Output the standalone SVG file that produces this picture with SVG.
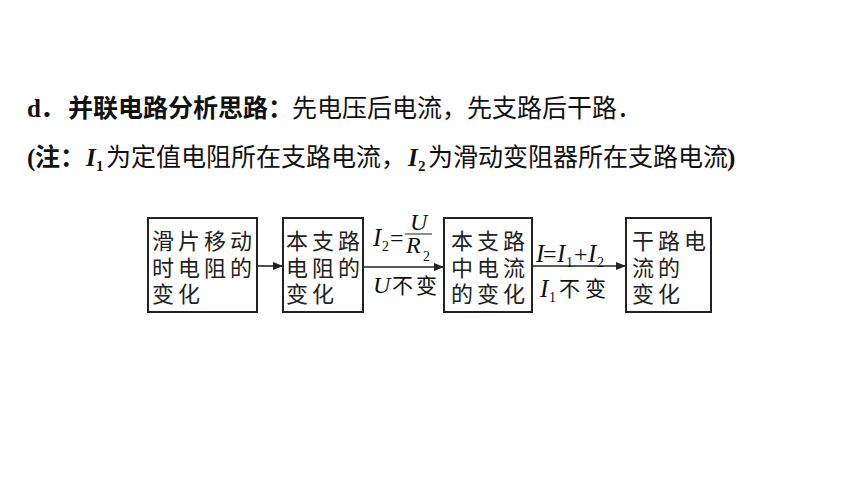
<svg xmlns="http://www.w3.org/2000/svg" width="860" height="484" viewBox="0 0 860 484">
<defs>
<style>
.cjk{font-family:"Noto Sans CJK SC","Noto Sans CJK JP",sans-serif;fill:#111}
.b{font-weight:bold}
.ser{font-family:"Liberation Serif","Times New Roman",serif;fill:#111}
.it{font-style:italic}
.box{fill:#fff;stroke:#222;stroke-width:2}
.bt{font-family:"Noto Sans CJK SC","Noto Sans CJK JP",sans-serif;font-size:22px;letter-spacing:4px;fill:#222}
.conn{stroke:#222;stroke-width:1.6;fill:none}
</style>
<marker id="ah" markerUnits="userSpaceOnUse" markerWidth="11" markerHeight="9" refX="10" refY="4" orient="auto">
<path d="M0,0 L10,4 L0,8 z" fill="#222"/>
</marker>
</defs>
<rect width="860" height="484" fill="#fff"/>
<g id="title">
<text x="27" y="117" class="ser b" font-size="25">d</text>
<text x="40" y="117" class="cjk b" font-size="25">．</text>
<text x="68" y="117" class="cjk b" font-size="25">并联电路分析思路：</text>
<text x="292" y="117" class="cjk" font-size="25">先电压后电流，先支路后干路．</text>
</g>
<g id="note">
<text x="27" y="166" class="ser b" font-size="25">(</text>
<text x="35" y="166" class="cjk b" font-size="25">注：</text>
<text x="86" y="166" class="ser b it" font-size="25">I</text>
<text x="96" y="171" class="ser b" font-size="15">1</text>
<text x="106" y="166" class="cjk" font-size="25">为定值电阻所在支路电流，</text>
<text x="408" y="166" class="ser b it" font-size="25">I</text>
<text x="418" y="171" class="ser b" font-size="15">2</text>
<text x="428" y="166" class="cjk" font-size="25">为滑动变阻器所在支路电流</text>
<text x="727" y="166" class="ser b" font-size="25">)</text>
</g>
<g id="connectors">
<line class="conn" x1="257" y1="266" x2="283" y2="266" marker-end="url(#ah)"/>
<line class="conn" x1="363" y1="267" x2="444" y2="267" marker-end="url(#ah)"/>
<line class="conn" x1="532" y1="266" x2="626" y2="266" marker-end="url(#ah)"/>
<g id="label-2">
<text x="373" y="246" class="ser it" font-size="25">I</text>
<text x="382" y="251" class="ser" font-size="14">2</text>
<text x="390" y="246" class="ser" font-size="24">=</text>
<text x="410" y="230" class="ser it" font-size="24">U</text>
<line x1="405" y1="234" x2="432" y2="234" stroke="#222" stroke-width="1"/>
<text x="406" y="253" class="ser it" font-size="24">R</text>
<text x="423" y="261" class="ser" font-size="14">2</text>
<text x="373" y="293" class="ser it" font-size="24">U</text>
<text x="392" y="293" class="cjk" font-size="21" letter-spacing="3">不变</text>
</g>
<g id="label-3">
<text x="536" y="262" class="ser it" font-size="25">I</text>
<text x="543" y="262" class="ser" font-size="24">=</text>
<text x="557" y="262" class="ser it" font-size="25">I</text>
<text x="566" y="267" class="ser" font-size="14">1</text>
<text x="574" y="262" class="ser" font-size="24">+</text>
<text x="588" y="262" class="ser it" font-size="25">I</text>
<text x="597" y="267" class="ser" font-size="14">2</text>
<text x="540" y="297" class="ser it" font-size="25">I</text>
<text x="549" y="302" class="ser" font-size="14">1</text>
<text x="559" y="296" class="cjk" font-size="21" letter-spacing="5">不变</text>
</g>
</g>
<g id="node-1">
<rect class="box" x="148" y="218" width="109" height="94"/>
<text class="bt"><tspan x="152" y="249">滑片移动</tspan><tspan x="152" y="276">时电阻的</tspan><tspan x="152" y="302">变化</tspan></text>
</g>
<g id="node-2">
<rect class="box" x="283" y="218" width="80" height="94"/>
<text class="bt"><tspan x="286" y="249">本支路</tspan><tspan x="286" y="276">电阻的</tspan><tspan x="286" y="302">变化</tspan></text>
</g>
<g id="node-3">
<rect class="box" x="444" y="218" width="88" height="94"/>
<text class="bt"><tspan x="451" y="249">本支路</tspan><tspan x="451" y="276">中电流</tspan><tspan x="451" y="302">的变化</tspan></text>
</g>
<g id="node-4">
<rect class="box" x="626" y="218" width="85" height="94"/>
<text class="bt"><tspan x="632" y="249">干路电</tspan><tspan x="632" y="276">流的</tspan><tspan x="632" y="302">变化</tspan></text>
</g>
</svg>
